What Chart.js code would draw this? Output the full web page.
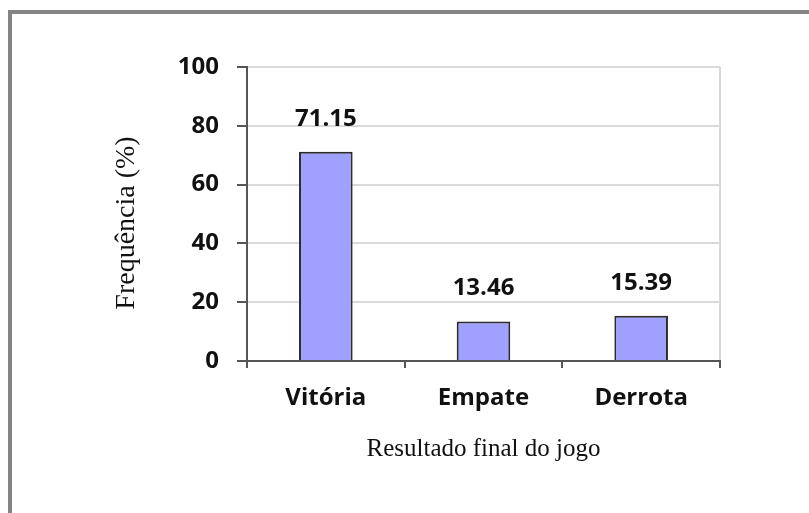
<!DOCTYPE html>
<html>
<head>
<meta charset="utf-8">
<script src="https://cdn.jsdelivr.net/npm/chart.js@4"></script>
<style>
  body { margin: 0; background: #fff; }
  #wrap { position: relative; width: 809px; height: 513px; overflow: hidden; }
  #frame {
    position: absolute; left: 8px; top: 10px; width: 900px; height: 600px;
    border-left: 4px solid #848484; border-top: 4px solid #848484;
  }
  canvas { position: absolute; left: 0; top: 0; }
</style>
</head>
<body>
<div id="wrap">
  <div id="frame"></div>
  <canvas id="chart" width="809" height="513"></canvas>
</div>
<script>
const categories = ['Vitória', 'Empate', 'Derrota'];
const frequencies = [71.15, 13.46, 15.39];
const valueLabels = ['71.15', '13.46', '15.39'];
const yTicks = [0, 20, 40, 60, 80, 100];
const yTitle = 'Frequência (%)';

const boldFont = { family: '"Open Sans", sans-serif', size: 24, weight: 'bold' };
const serifFont = { family: '"Liberation Serif", "Times New Roman", serif', weight: 'normal' };

// value labels above each bar + the vertical axis title
const labelPlugin = {
  id: 'labels',
  afterDatasetsDraw(chart) {
    const ctx = chart.ctx;
    const meta = chart.getDatasetMeta(0);
    ctx.save();
    ctx.font = 'bold 24px "Open Sans", sans-serif';
    ctx.fillStyle = '#111';
    ctx.textAlign = 'center';
    ctx.textBaseline = 'middle';
    meta.data.forEach((bar, i) => {
      ctx.fillText(valueLabels[i], bar.x, bar.y - 33);
    });
    const area = chart.chartArea;
    ctx.translate(127, (area.top + area.bottom) / 2 + 9);
    ctx.rotate(-Math.PI / 2);
    ctx.font = '28px "Liberation Serif", "Times New Roman", serif';
    ctx.fillText(yTitle, 0, 0);
    ctx.restore();
  }
};

new Chart(document.getElementById('chart').getContext('2d'), {
  type: 'bar',
  data: {
    labels: categories,
    datasets: [{
      data: frequencies,
      backgroundColor: 'rgb(160,160,255)',
      borderColor: '#2b2b2b',
      borderWidth: 2,
      borderSkipped: 'bottom',
      categoryPercentage: 1,
      barPercentage: 0.34
    }]
  },
  options: {
    responsive: false,
    animation: false,
    layout: { padding: { left: 111, top: 67, right: 89, bottom: 49 } },
    plugins: {
      legend: { display: false },
      tooltip: { enabled: false }
    },
    scales: {
      x: {
        afterFit(scale) { scale.height = 103; },
        grid: {
          offset: true,
          drawOnChartArea: true,
          color: c => (c.tick ? 'rgba(0,0,0,0)' : '#d9d9d9'),
          lineWidth: 2,
          tickColor: '#555',
          tickLength: 7
        },
        border: { color: '#555', width: 2 },
        ticks: { color: '#111', font: boldFont, padding: 16 },
        title: {
          display: true,
          text: 'Resultado final do jogo',
          color: '#111',
          font: { ...serifFont, size: 25 },
          padding: 0
        }
      },
      y: {
        min: 0,
        max: 100,
        afterFit(scale) { scale.width = 136; },
        afterBuildTicks(scale) { scale.ticks = yTicks.map(v => ({ value: v })); },
        grid: {
          color: c => (c.tick && c.tick.value === 0 ? 'rgba(0,0,0,0)' : '#d9d9d9'),
          lineWidth: 2,
          tickColor: '#555',
          tickLength: 10
        },
        border: { color: '#555', width: 2 },
        ticks: { color: '#111', font: boldFont, padding: 18 },
        title: { display: false }
      }
    }
  },
  plugins: [labelPlugin]
});
</script>
</body>
</html>
